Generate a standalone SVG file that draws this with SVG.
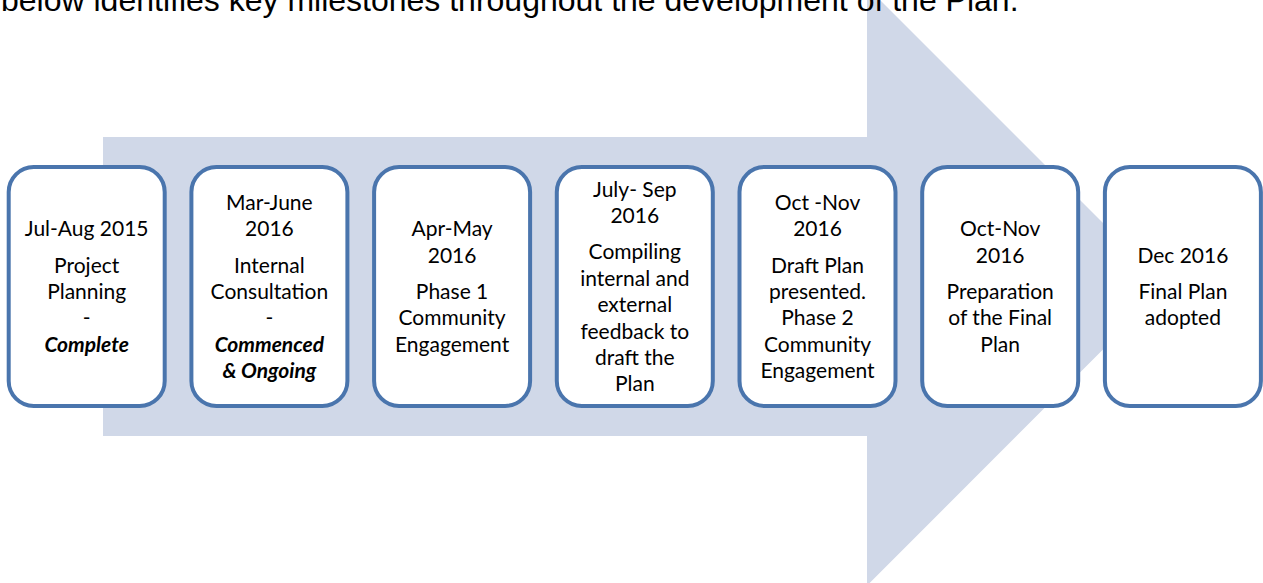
<svg xmlns="http://www.w3.org/2000/svg" width="1263" height="583" viewBox="0 0 1263 583">
<style>
.box{fill:#ffffff;stroke:#4A75AD;stroke-width:4}
.t{font-family:Lato,"Open Sans",sans-serif;font-size:21px;fill:#000;text-anchor:middle}
.bi{font-weight:bold;font-style:italic}
.intro{font-family:"Liberation Sans",Arial,sans-serif;font-size:32px;fill:#000}
</style>
<rect width="1263" height="583" fill="#ffffff"/>
<g id="arrow">
<polygon points="103,137 867,137 867,-13 1166.3,286.3 867,585.6 867,436 103,436" fill="#D0D8E8"/>
</g>
<text class="intro" x="1" y="11">below identifies key milestones throughout the development of the Plan.</text>
<g id="connectors"></g>
<g id="n1">
<rect class="box" x="8.7" y="167" width="156" height="239" rx="25"/>
<text class="t" x="86.7" y="236.2">Jul-Aug 2015</text>
<text class="t" x="86.7" y="272.6">Project</text>
<text class="t" x="86.7" y="299">Planning</text>
<text class="t" x="86.7" y="325.4">-</text>
<text class="t bi" x="86.7" y="351.8">Complete</text>
</g>
<g id="n2">
<rect class="box" x="191.4" y="167" width="156" height="239" rx="25"/>
<text class="t" x="269.4" y="209.8">Mar-June</text>
<text class="t" x="269.4" y="236.2">2016</text>
<text class="t" x="269.4" y="272.6">Internal</text>
<text class="t" x="269.4" y="299">Consultation</text>
<text class="t" x="269.4" y="325.4">-</text>
<text class="t bi" x="269.4" y="351.8">Commenced</text>
<text class="t bi" x="269.4" y="378.2">&amp; Ongoing</text>
</g>
<g id="n3">
<rect class="box" x="374.1" y="167" width="156" height="239" rx="25"/>
<text class="t" x="452.1" y="236.2">Apr-May</text>
<text class="t" x="452.1" y="262.6">2016</text>
<text class="t" x="452.1" y="299">Phase 1</text>
<text class="t" x="452.1" y="325.4">Community</text>
<text class="t" x="452.1" y="351.8">Engagement</text>
</g>
<g id="n4">
<rect class="box" x="556.8" y="167" width="156" height="239" rx="25"/>
<text class="t" x="634.8" y="196.6">July- Sep</text>
<text class="t" x="634.8" y="223">2016</text>
<text class="t" x="634.8" y="259.4">Compiling</text>
<text class="t" x="634.8" y="285.8">internal and</text>
<text class="t" x="634.8" y="312.2">external</text>
<text class="t" x="634.8" y="338.6">feedback to</text>
<text class="t" x="634.8" y="365">draft the</text>
<text class="t" x="634.8" y="391.4">Plan</text>
</g>
<g id="n5">
<rect class="box" x="739.5" y="167" width="156" height="239" rx="25"/>
<text class="t" x="817.5" y="209.8">Oct -Nov</text>
<text class="t" x="817.5" y="236.2">2016</text>
<text class="t" x="817.5" y="272.6">Draft Plan</text>
<text class="t" x="817.5" y="299">presented.</text>
<text class="t" x="817.5" y="325.4">Phase 2</text>
<text class="t" x="817.5" y="351.8">Community</text>
<text class="t" x="817.5" y="378.2">Engagement</text>
</g>
<g id="n6">
<rect class="box" x="922.2" y="167" width="156" height="239" rx="25"/>
<text class="t" x="1000.2" y="236.2">Oct-Nov</text>
<text class="t" x="1000.2" y="262.6">2016</text>
<text class="t" x="1000.2" y="299">Preparation</text>
<text class="t" x="1000.2" y="325.4">of the Final</text>
<text class="t" x="1000.2" y="351.8">Plan</text>
</g>
<g id="n7">
<rect class="box" x="1104.9" y="167" width="156" height="239" rx="25"/>
<text class="t" x="1182.9" y="262.6">Dec 2016</text>
<text class="t" x="1182.9" y="299">Final Plan</text>
<text class="t" x="1182.9" y="325.4">adopted</text>
</g>
</svg>
